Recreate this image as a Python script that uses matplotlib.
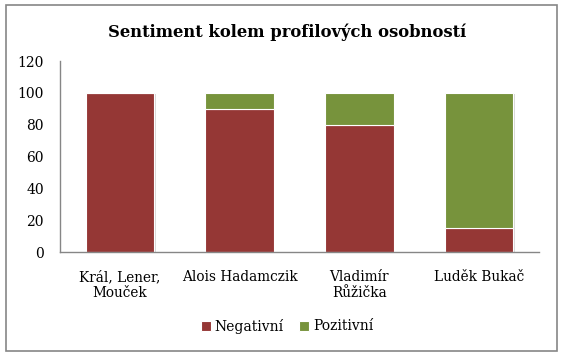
import matplotlib
matplotlib.use("Agg")
import matplotlib.pyplot as plt
import matplotlib.patheffects as pe
from matplotlib.patches import Rectangle
import numpy as np

categories = ["Král, Lener,\nMouček", "Alois Hadamczik", "Vladimír\nRůžička", "Luděk Bukač"]
negativni = [100, 90, 80, 15]
pozitivni = [0, 10, 20, 85]
yticks = [0, 20, 40, 60, 80, 100, 120]

RED = "#953735"
GREEN = "#77933C"
GRAY = "#868686"
FONT = "DejaVu Serif"

fig = plt.figure(figsize=(5.61, 3.55), dpi=100)
fig.patches.append(Rectangle((6/561, 1-351/355), (557-6)/561, (351-5)/355,
                             transform=fig.transFigure, fill=False,
                             edgecolor=GRAY, linewidth=1.2))

ax = fig.add_axes([60/561, 1-252/355, (539-60)/561, (252-61)/355])
x = np.arange(len(categories))
w = 0.57
shadow = [pe.SimplePatchShadow(offset=(1.2, -0.8), shadow_rgbFace="#b0b0b0", alpha=0.5), pe.Normal()]
b1 = ax.bar(x, negativni, w, color=RED, edgecolor="white", linewidth=0.8, label="Negativní")
b2 = ax.bar(x, pozitivni, w, bottom=negativni, color=GREEN, edgecolor="white", linewidth=0.8, label="Pozitivní")
for b in list(b1) + list(b2):
    b.set_path_effects(shadow)

ax.set_xlim(-0.5, len(categories) - 0.5)
ax.set_ylim(0, 120)
ax.set_yticks(yticks)
ax.set_yticklabels([str(v) for v in yticks], fontfamily=FONT, fontsize=10)
ax.set_xticks(x)
ax.set_xticklabels(categories, fontfamily=FONT, fontsize=9.8, linespacing=1.2)
ax.tick_params(axis="both", length=0)
ax.tick_params(axis="y", pad=11.5)
ax.tick_params(axis="x", pad=13)
for s in ["top", "right"]:
    ax.spines[s].set_visible(False)
for s in ["left", "bottom"]:
    ax.spines[s].set_color(GRAY)
    ax.spines[s].set_linewidth(1.0)

fig.text(287/561, 1-32/355, "Sentiment kolem profilových osobností",
         ha="center", va="center", fontfamily=FONT, fontweight="bold", fontsize=11.8)

leg = fig.legend(loc="center", bbox_to_anchor=(287/561, 1-326/355), ncol=2, frameon=False,
                 prop={"family": FONT, "size": 10}, handlelength=0.7, handleheight=0.7,
                 handletextpad=0.3, columnspacing=1.1)

fig.savefig("out.png", dpi=100)
